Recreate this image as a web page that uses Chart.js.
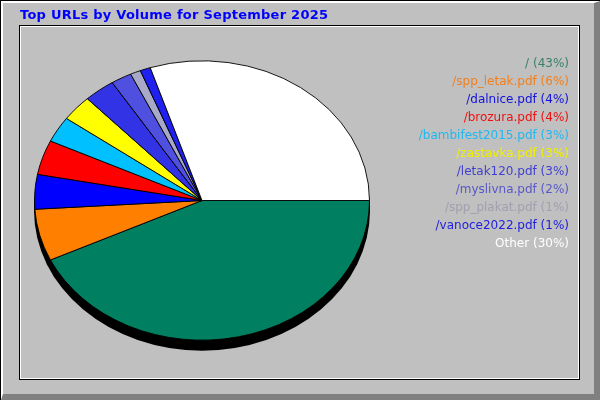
<!DOCTYPE html>
<html>
<head>
<meta charset="utf-8">
<script src="https://cdn.jsdelivr.net/npm/chart.js@4/dist/chart.umd.min.js"></script>
<style>
  body { margin: 0; background: #c0c0c0; }
  #frame {
    position: relative; width: 600px; height: 400px; box-sizing: border-box;
    background: #c0c0c0; border-left: 1px solid #000; border-top: 1px solid #000;
    overflow: hidden;
  }
  #bevel {
    position: absolute; left: 0; top: 0; right: 0; bottom: 0;
    border-top: 2px solid #fff; border-left: 2px solid #fff;
    border-right: 6px solid #808080; border-bottom: 6px solid #808080;
  }
  #panelOuter {
    position: absolute; left: 18px; top: 24px; width: 559px; height: 353px;
    border: 1px solid #000;
  }
  #panelInner {
    position: absolute; left: 19px; top: 25px; width: 557px; height: 351px;
    border: 1px solid #fff;
  }
  #title {
    position: absolute; left: 19px; top: 6px; letter-spacing: 0.25px;
    font: bold 13px "DejaVu Sans", sans-serif; color: #0000ff; white-space: nowrap;
  }
  #legend {
    position: absolute; right: 31px; top: 53px; text-align: right;
    font: 12px "DejaVu Sans", sans-serif; line-height: 18px; white-space: nowrap;
  }
  canvas { position: absolute; left: -1px; top: -1px; }
</style>
</head>
<body>
<div id="frame">
  <div id="bevel"></div>
  <div id="panelOuter"></div>
  <div id="panelInner"></div>
  <canvas id="chart" width="600" height="400"></canvas>
  <div id="title">Top URLs by Volume for September 2025</div>
  <div id="legend"></div>
</div>
<script>
// Data
const urls = ["/", "/spp_letak.pdf", "/dalnice.pdf", "/brozura.pdf", "/bambifest2015.pdf",
  "/zastavka.pdf", "/letak120.pdf", "/myslivna.pdf", "/spp_plakat.pdf", "/vanoce2022.pdf", "Other"];
const shares = [43, 6, 4, 4, 3, 3, 3, 2, 1, 1, 30];
const sliceColors = ["#008060", "#ff8000", "#0000ff", "#ff0000", "#00c0ff",
  "#ffff00", "#3333e6", "#5050e0", "#a8a8c8", "#2020f0", "#ffffff"];
const textColors = ["#3a8068", "#f08020", "#1010e0", "#f01010", "#20b8f0",
  "#f0f000", "#4040d0", "#5858c8", "#a0a0b0", "#2020e0", "#ffffff"];

// Pie shape
const squash = 140.5 / 168.5;
const depth = 10;

// Legend
const legend = document.querySelector("#legend");
urls.forEach((el, index) => {
  legend.innerHTML += `<div style="color:${textColors[index]}">${el} (${shares[index]}%)</div>`;
});

// Flatten the pie into an ellipse with a dark edge below it
const ellipsePie = {
  id: "ellipsePie",
  beforeDatasetsDraw(chart) {
    const arc = chart.getDatasetMeta(0).data[0];
    const { x, y, outerRadius } = arc.getProps(["x", "y", "outerRadius"], true);
    const ctx = chart.ctx;
    ctx.save();
    ctx.fillStyle = "#000";
    ctx.beginPath();
    ctx.ellipse(x, y + depth, outerRadius + 0.5, outerRadius * squash + 0.5, 0, 0, Math.PI * 2);
    ctx.fill();
    ctx.fillRect(x - outerRadius - 0.5, y, outerRadius * 2 + 1, depth);
    ctx.restore();
    ctx.save();
    ctx.translate(x, y);
    ctx.scale(1, squash);
    ctx.translate(-x, -y);
  },
  afterDatasetsDraw(chart) {
    chart.ctx.restore();
  },
};

// Create chart
const config = {
  type: "pie",
  data: {
    labels: urls,
    datasets: [
      {
        data: shares,
        backgroundColor: sliceColors,
        borderColor: "#000",
        borderWidth: 1,
      },
    ],
  },
  options: {
    responsive: false,
    devicePixelRatio: 1,
    animation: false,
    events: [],
    rotation: 90,
    layout: { padding: { left: 34, right: 230, top: 32, bottom: 31 } },
    plugins: { legend: { display: false }, tooltip: { enabled: false } },
  },
  plugins: [ellipsePie],
};

const myChart = new Chart(document.querySelector("#chart"), config);
</script>
</body>
</html>
